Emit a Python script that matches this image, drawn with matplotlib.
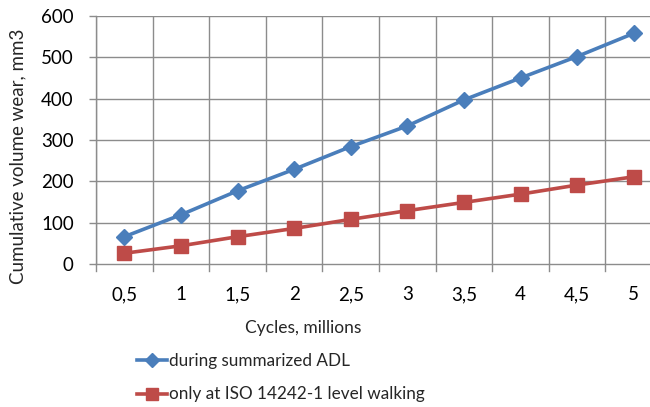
import matplotlib
matplotlib.use("Agg")
import matplotlib.pyplot as plt
from matplotlib.lines import Line2D

CYCLES = ["0,5", "1", "1,5", "2", "2,5", "3", "3,5", "4", "4,5", "5"]
WEAR_ADL = [66, 119, 177, 229, 284, 334, 397, 450, 502, 558]
WEAR_ISO = [26, 44, 66, 86, 108, 129, 149, 169, 191, 211]
Y_TICKS = [0, 100, 200, 300, 400, 500, 600]

BLUE = "#4A7EBB"
RED = "#BE4B48"
GRID = "#8C8C8C"

plt.rcParams["font.family"] = ["Lato", "DejaVu Sans"]
plt.rcParams["text.color"] = "#262626"

W, H = 650, 407
fig = plt.figure(figsize=(W / 100, H / 100), dpi=100)

# plot area runs a little past the right edge of the canvas
left, right, top, bottom = 96, 662, 16, 264
ax = fig.add_axes([left / W, 1 - bottom / H, (right - left) / W, (bottom - top) / H])

x = list(range(len(CYCLES)))
ax.plot(x, WEAR_ADL, color=BLUE, lw=2.6, marker="D", ms=8.5, zorder=3)
ax.plot(x, WEAR_ISO, color=RED, lw=2.6, marker="s", ms=10, zorder=3)

ax.set_xlim(-0.5, len(CYCLES) - 0.5)
ax.set_ylim(0, 600)
ax.set_yticks(Y_TICKS)
ax.set_yticklabels([str(v) for v in Y_TICKS], fontsize=13.5)
ax.set_xticks(x)
ax.set_xticklabels(CYCLES, fontsize=13.5)
ax.tick_params(axis="x", length=0, pad=16)
ax.tick_params(axis="y", length=5, color=GRID, width=1, pad=11)

# category separators and their tick marks below the axis
for b in range(len(CYCLES) + 1):
    ax.axvline(b - 0.5, color=GRID, lw=1, zorder=1)
    ax.plot([b - 0.5, b - 0.5], [0, -17], color=GRID, lw=1, clip_on=False, zorder=1)
for v in Y_TICKS[1:]:
    ax.axhline(v, color=GRID, lw=1, zorder=1)

for s in ["top", "right"]:
    ax.spines[s].set_visible(False)
for s in ["left", "bottom"]:
    ax.spines[s].set_color(GRID)
    ax.spines[s].set_linewidth(1)

fig.text(18 / W, 1 - 156 / H, "Cumulative volume wear, mm3", rotation=90,
         ha="center", va="center", fontsize=13.5)
fig.text(303 / W, 1 - 328 / H, "Cycles, millions", ha="center", va="center",
         fontsize=12.5)

handles = [
    Line2D([], [], color=BLUE, lw=2.6, marker="D", ms=7),
    Line2D([], [], color=RED, lw=2.6, marker="s", ms=8.5),
]
fig.legend(handles, ["during summarized ADL", "only at ISO 14242-1 level walking"],
           loc="upper left", bbox_to_anchor=(128 / W, 1 - 344 / H), frameon=False,
           fontsize=12.3, handlelength=1.8, handletextpad=0.1, labelspacing=1.05,
           borderpad=0)

fig.savefig("out.png", dpi=100)
